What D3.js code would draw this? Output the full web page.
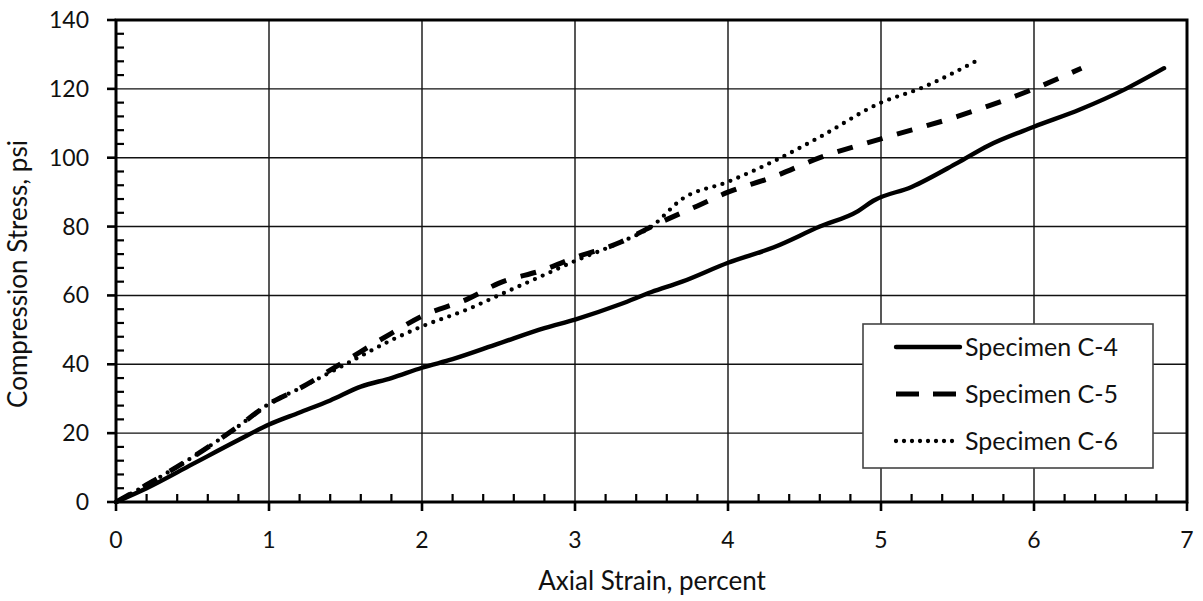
<!DOCTYPE html>
<html>
<head>
<meta charset="utf-8">
<script src="https://cdn.jsdelivr.net/npm/d3@7"></script>
<style>
  body { margin: 0; background: #fff; }
  .chart { width: 1203px; height: 601px; }
</style>
</head>
<body>
<div class="chart"></div>
<script>
// strain in percent, stress in psi
const strainC4 = [0, 0.2, 0.5, 0.8, 1.0, 1.2, 1.4, 1.6, 1.8, 2.0, 2.2, 2.5, 2.8, 3.0, 3.3, 3.5, 3.7, 4.0, 4.3, 4.6, 4.85, 4.95, 5.2, 5.5, 5.7, 6.0, 6.3, 6.6, 6.85];
const stressC4 = [0, 4, 11, 18, 22.5, 26, 29.5, 33.5, 36, 39, 41.5, 46, 50.5, 53, 57.5, 61, 64, 69.5, 74, 80, 84.5, 87.5, 91.5, 98.5, 103.5, 109, 114, 120, 126];

const strainC5 = [0, 0.2, 0.5, 0.8, 1.0, 1.2, 1.5, 1.8, 2.0, 2.3, 2.5, 2.8, 3.0, 3.3, 3.5, 3.8, 4.0, 4.3, 4.6, 5.0, 5.5, 6.0, 6.31];
const stressC5 = [0, 5, 13, 22, 28.5, 33, 41, 49, 54, 59, 63.5, 67.5, 71, 75.5, 80, 86, 90, 94.5, 100, 105.5, 112, 120, 126];

const strainC6 = [0, 0.2, 0.5, 0.8, 1.0, 1.2, 1.5, 1.8, 2.0, 2.3, 2.5, 2.8, 3.0, 3.3, 3.5, 3.7, 4.0, 4.3, 4.6, 5.0, 5.25, 5.66];
const stressC6 = [0, 5, 13, 22, 28.5, 33, 40, 47, 51, 56, 60, 66, 70, 75.5, 80, 88, 93, 99, 106, 116, 120, 129];

const seriesNames = ["Specimen C-4", "Specimen C-5", "Specimen C-6"];
const xTicks = [0, 1, 2, 3, 4, 5, 6, 7];
const yTicks = [0, 20, 40, 60, 80, 100, 120, 140];

const series = [
  {name: seriesNames[0], x: strainC4, y: stressC4, dash: null, legendDash: null, cap: "round", w: 4.4},
  {name: seriesNames[1], x: strainC5, y: stressC5, dash: "16,15", legendDash: "23,14", cap: "butt", w: 5},
  {name: seriesNames[2], x: strainC6, y: stressC6, dash: "0,8.5", legendDash: "0,8", cap: "round", w: 4.3}
];

const W = 1203, H = 601;
const margin = {top: 20, right: 16, bottom: 99, left: 116};
const width = W - margin.left - margin.right;
const height = H - margin.top - margin.bottom;
const font = "Lato, 'Open Sans', sans-serif";
const textColor = "#111";

const svg = d3.select(".chart")
  .append("svg")
  .attr("width", W)
  .attr("height", H)
  .style("font-family", font);

const g = svg.append("g")
  .attr("transform", `translate(${margin.left}, ${margin.top})`);

const x = d3.scaleLinear().domain([0, 7]).range([0, width]);
const y = d3.scaleLinear().domain([0, 140]).range([height, 0]);

// grid
g.append("g")
  .selectAll("line")
  .data(xTicks.slice(1, -1))
  .join("line")
  .attr("x1", d => x(d)).attr("x2", d => x(d))
  .attr("y1", 0).attr("y2", height)
  .attr("stroke", "#111").attr("stroke-width", 1.4);

g.append("g")
  .selectAll("line")
  .data(yTicks.slice(1, -1))
  .join("line")
  .attr("x1", 0).attr("x2", width)
  .attr("y1", d => y(d)).attr("y2", d => y(d))
  .attr("stroke", "#111").attr("stroke-width", 1.4);

// minor ticks (inside)
const xMinor = d3.range(0, 7.0001, 0.2).filter(v => Math.abs(v - Math.round(v)) > 1e-6);
const yMinor = d3.range(0, 140.001, 4).filter(v => v % 20 !== 0);

g.append("g")
  .selectAll("line")
  .data(xMinor)
  .join("line")
  .attr("x1", d => x(d)).attr("x2", d => x(d))
  .attr("y1", height).attr("y2", height - 8)
  .attr("stroke", "#000").attr("stroke-width", 2.2);

g.append("g")
  .selectAll("line")
  .data(yMinor)
  .join("line")
  .attr("x1", 0).attr("x2", 8)
  .attr("y1", d => y(d)).attr("y2", d => y(d))
  .attr("stroke", "#000").attr("stroke-width", 2.2);

// major ticks (outside)
g.append("g")
  .selectAll("line")
  .data(xTicks)
  .join("line")
  .attr("x1", d => x(d)).attr("x2", d => x(d))
  .attr("y1", height).attr("y2", height + 9)
  .attr("stroke", "#000").attr("stroke-width", 2.6);

g.append("g")
  .selectAll("line")
  .data(yTicks)
  .join("line")
  .attr("x1", -9).attr("x2", 0)
  .attr("y1", d => y(d)).attr("y2", d => y(d))
  .attr("stroke", "#000").attr("stroke-width", 2.6);

// frame
g.append("rect")
  .attr("x", 0).attr("y", 0)
  .attr("width", width).attr("height", height)
  .attr("fill", "none")
  .attr("stroke", "#000")
  .attr("stroke-width", 3);

// tick labels
g.append("g")
  .selectAll("text")
  .data(xTicks)
  .join("text")
  .attr("x", d => x(d))
  .attr("y", height + 46)
  .attr("text-anchor", "middle")
  .attr("fill", textColor)
  .style("font-size", "23px")
  .text(d => d);

g.append("g")
  .selectAll("text")
  .data(yTicks)
  .join("text")
  .attr("x", -27)
  .attr("y", d => y(d))
  .attr("dy", "0.35em")
  .attr("text-anchor", "end")
  .attr("fill", textColor)
  .style("font-size", "23px")
  .text(d => d);

// axis titles
svg.append("text")
  .attr("x", 652)
  .attr("y", 590)
  .attr("text-anchor", "middle")
  .attr("fill", textColor)
  .style("font-size", "26px")
  .text("Axial Strain, percent");

svg.append("text")
  .attr("transform", "translate(27, 274) rotate(-90)")
  .attr("text-anchor", "middle")
  .attr("fill", textColor)
  .style("font-size", "26px")
  .text("Compression Stress, psi");

// curves
const line = d3.line()
  .x(d => x(d[0]))
  .y(d => y(d[1]))
  .curve(d3.curveMonotoneX);

g.append("g")
  .selectAll("path")
  .data(series)
  .join("path")
  .attr("d", s => line(s.x.map((v, i) => [v, s.y[i]])))
  .attr("fill", "none")
  .attr("stroke", "#000")
  .attr("stroke-width", s => s.w)
  .attr("stroke-linecap", s => s.cap)
  .attr("stroke-linejoin", "round")
  .attr("stroke-dasharray", s => s.dash);

// legend
const legend = svg.append("g").attr("transform", "translate(863, 324)");
legend.append("rect")
  .attr("width", 290).attr("height", 144)
  .attr("fill", "#fff")
  .attr("stroke", "#444")
  .attr("stroke-width", 1.6);

const items = legend.selectAll("g.item")
  .data(series)
  .join("g")
  .attr("class", "item")
  .attr("transform", (d, i) => `translate(0, ${23 + i * 47})`);

items.append("line")
  .attr("x1", 33).attr("x2", 97)
  .attr("stroke", "#000")
  .attr("stroke-width", d => d.w)
  .attr("stroke-linecap", d => d.cap)
  .attr("stroke-dasharray", d => d.legendDash);

items.append("text")
  .attr("x", 102)
  .attr("dy", "0.35em")
  .attr("fill", textColor)
  .style("font-size", "25px")
  .text(d => d.name);
</script>
</body>
</html>
